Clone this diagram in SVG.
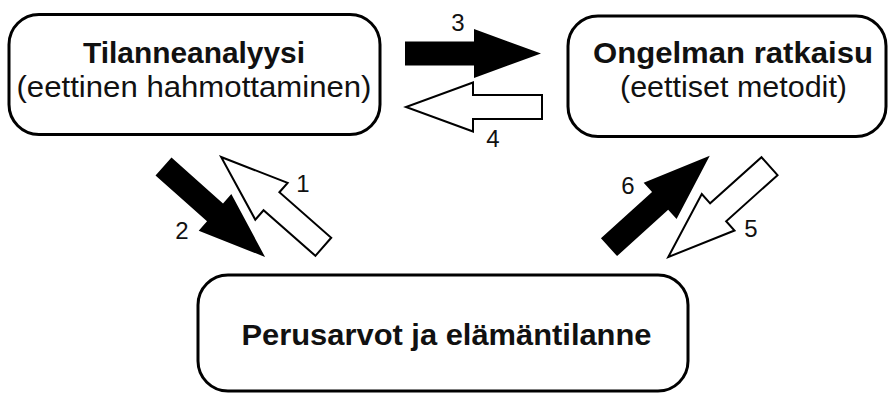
<svg xmlns="http://www.w3.org/2000/svg" width="889" height="394" viewBox="0 0 889 394">
  <style>
    .box { fill: #ffffff; stroke: #000000; stroke-width: 3; }
    .title { font-family: "Liberation Sans", Arial, sans-serif; font-size: 30px; font-weight: bold; fill: #111111; }
    .sub { font-family: "Liberation Sans", Arial, sans-serif; font-size: 30px; fill: #111111; }
    .num { font-family: "Liberation Sans", Arial, sans-serif; font-size: 24px; fill: #111111; text-anchor: middle; }
    .solid { fill: #000000; stroke: none; }
    .hollow { fill: #ffffff; stroke: #000000; stroke-width: 2; stroke-linejoin: miter; }
  </style>
  <defs>
    <polygon id="arrow" points="0,-12 69,-12 69,-24.5 136,0 69,24.5 69,12 0,12"/>
  </defs>
  <rect width="889" height="394" fill="#ffffff"/>

  <g id="node-tilanneanalyysi">
    <rect class="box" x="9" y="14.5" width="371" height="120" rx="30" ry="30"/>
    <text class="title" x="83" y="63" textLength="222" lengthAdjust="spacingAndGlyphs">Tilanneanalyysi</text>
    <text class="sub" x="16.5" y="97" textLength="355" lengthAdjust="spacingAndGlyphs">(eettinen hahmottaminen)</text>
  </g>

  <g id="node-ongelman-ratkaisu">
    <rect class="box" x="568" y="16" width="318" height="120.5" rx="30" ry="30"/>
    <text class="title" x="593" y="63" textLength="280" lengthAdjust="spacingAndGlyphs">Ongelman ratkaisu</text>
    <text class="sub" x="620" y="97" textLength="227" lengthAdjust="spacingAndGlyphs">(eettiset metodit)</text>
  </g>

  <g id="node-perusarvot">
    <rect class="box" x="198" y="275" width="490" height="116" rx="30" ry="30"/>
    <text class="title" x="241.5" y="345" textLength="410" lengthAdjust="spacingAndGlyphs">Perusarvot ja elämäntilanne</text>
  </g>

  <g id="connectors">
    <use href="#arrow" class="solid" transform="translate(405,53.5)"/>
    <use href="#arrow" class="hollow" transform="translate(542,107) rotate(180)"/>
    <use href="#arrow" class="solid" transform="translate(163.5,166.5) rotate(41.7)"/>
    <use href="#arrow" class="hollow" transform="translate(323.3,246.8) rotate(221.3)"/>
    <use href="#arrow" class="solid" transform="translate(609,247.2) rotate(-42.2)"/>
    <use href="#arrow" class="hollow" transform="translate(769.5,166.2) rotate(138.1)"/>
    <text class="num" x="458" y="31">3</text>
    <text class="num" x="493" y="147">4</text>
    <text class="num" x="303" y="192">1</text>
    <text class="num" x="182" y="239">2</text>
    <text class="num" x="628" y="194">6</text>
    <text class="num" x="751" y="237">5</text>
  </g>
</svg>
